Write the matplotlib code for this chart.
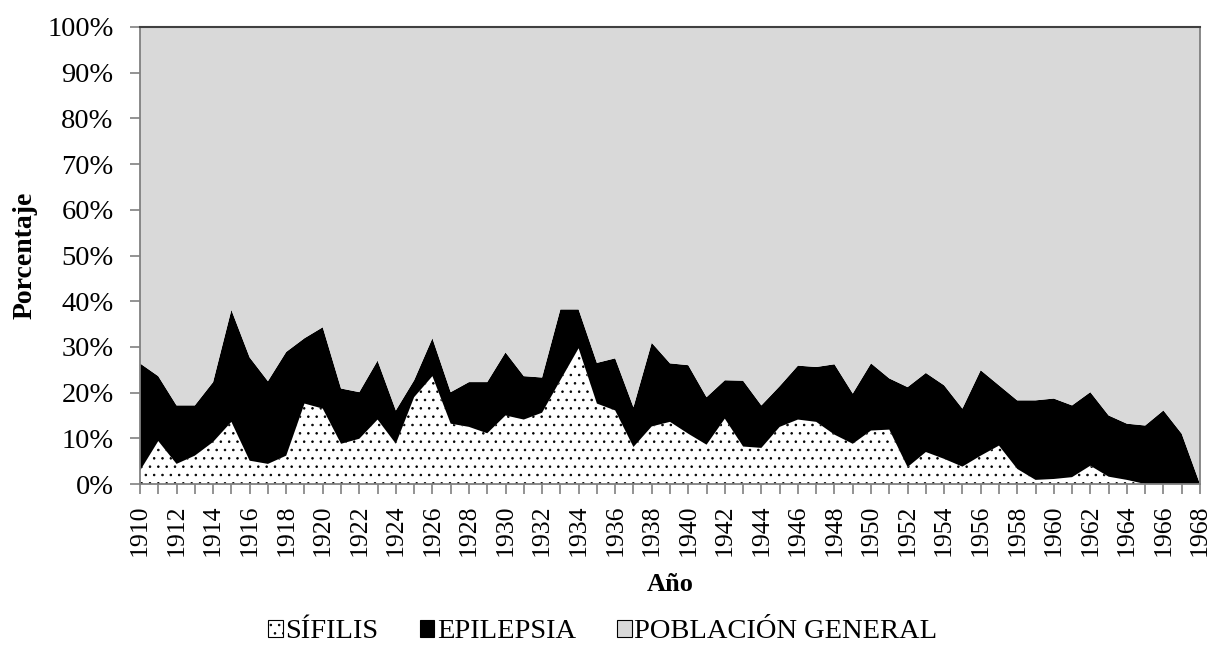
import matplotlib
matplotlib.use("Agg")
import matplotlib.pyplot as plt
from matplotlib.patches import Patch

plt.rcParams['font.family'] = ['Liberation Serif', 'DejaVu Serif']
plt.rcParams['hatch.color'] = 'black'
plt.rcParams['hatch.linewidth'] = 0.6

years = list(range(1910, 1969))

# porcentaje por año
sifilis = [2.9, 9.4, 4.4, 6.2, 9.2, 13.6, 5.1, 4.4, 6.2, 17.6,
           16.5, 8.8, 9.9, 14.1, 8.8, 19.0, 23.6, 13.2, 12.5, 11.1,
           15.0, 14.1, 15.6, 22.7, 29.7, 17.6, 16.1, 8.1, 12.6, 13.6,
           11.0, 8.6, 14.3, 8.2, 7.9, 12.5, 14.1, 13.6, 10.8, 8.8,
           11.7, 11.9, 3.7, 7.0, 5.5, 3.8, 6.2, 8.4, 3.3, 0.9,
           1.1, 1.5, 4.0, 1.6, 0.9, 0.0, 0.0, 0.0, 0.0]
epilepsia = [23.5, 14.2, 12.8, 11.0, 13.1, 24.5, 22.6, 18.1, 22.7, 14.3,
             17.8, 12.1, 10.2, 12.9, 7.3, 3.7, 8.3, 6.9, 9.8, 11.2,
             13.8, 9.5, 7.7, 15.5, 8.5, 8.9, 11.4, 8.7, 18.3, 12.8,
             15.0, 10.4, 8.4, 14.4, 9.3, 8.9, 11.8, 12.0, 15.4, 11.0,
             14.7, 11.2, 17.5, 17.3, 16.1, 12.7, 18.7, 13.2, 15.0, 17.4,
             17.6, 15.7, 16.1, 13.4, 12.3, 12.8, 16.1, 11.0, 0.0]
poblacion = [73.6, 76.4, 82.8, 82.8, 77.7, 61.9, 72.3, 77.5, 71.1, 68.1,
             65.7, 79.1, 79.9, 73.0, 83.9, 77.3, 68.1, 79.9, 77.7, 77.7,
             71.2, 76.4, 76.7, 61.8, 61.8, 73.5, 72.5, 83.2, 69.1, 73.6,
             74.0, 81.0, 77.3, 77.4, 82.8, 78.6, 74.1, 74.4, 73.8, 80.2,
             73.6, 76.9, 78.8, 75.7, 78.4, 83.5, 75.1, 78.4, 81.7, 81.7,
             81.3, 82.8, 79.9, 85.0, 86.8, 87.2, 83.9, 89.0, 100.0]

labels = ['SÍFILIS', 'EPILEPSIA', 'POBLACIÓN GENERAL']
colors = ['white', 'black', '#d9d9d9']

fig = plt.figure(figsize=(12.1, 6.71), dpi=100)
ax = fig.add_axes([140 / 1210, 1 - 484 / 671, 1060 / 1210, 457 / 671])

polys = ax.stackplot(years, sifilis, epilepsia, poblacion, colors=colors, linewidth=0)
polys[0].set_hatch('..')
polys[0].set_edgecolor('black')
polys[0].set_linewidth(0)

ax.set_xlim(1910, 1968)
ax.set_ylim(0, 100)
ax.set_yticks(range(0, 101, 10))
ax.set_yticklabels([f"{v}%" for v in range(0, 101, 10)], fontsize=20.5)
ax.set_xticks(years)
ax.set_xticklabels([str(y) if y % 2 == 0 else '' for y in years], rotation=90, fontsize=18.5)
ax.tick_params(axis='both', direction='out', length=7, color='#808080', width=1.2)
ax.tick_params(axis='y', pad=12)
ax.tick_params(axis='x', pad=8)

for s in ['left', 'bottom', 'right']:
    ax.spines[s].set_color('#808080')
    ax.spines[s].set_linewidth(1.3)
ax.spines['top'].set_color('#404040')
ax.spines['top'].set_linewidth(1.5)

ax.set_ylabel('Porcentaje', fontsize=20, fontweight='bold', labelpad=7)
ax.set_xlabel('Año', fontsize=19, fontweight='bold', labelpad=12)

handles = [Patch(facecolor=c, edgecolor='black', linewidth=0.8, hatch=h)
           for c, h in zip(colors, ['..', None, None])]
fig.legend(handles, labels, loc='center', bbox_to_anchor=(603 / 1210, 1 - 632 / 671),
           ncol=3, frameon=False, fontsize=20.5, handlelength=0.5, handleheight=0.5,
           handletextpad=0.1, columnspacing=1.45)

plt.savefig("out.png", dpi=100)
